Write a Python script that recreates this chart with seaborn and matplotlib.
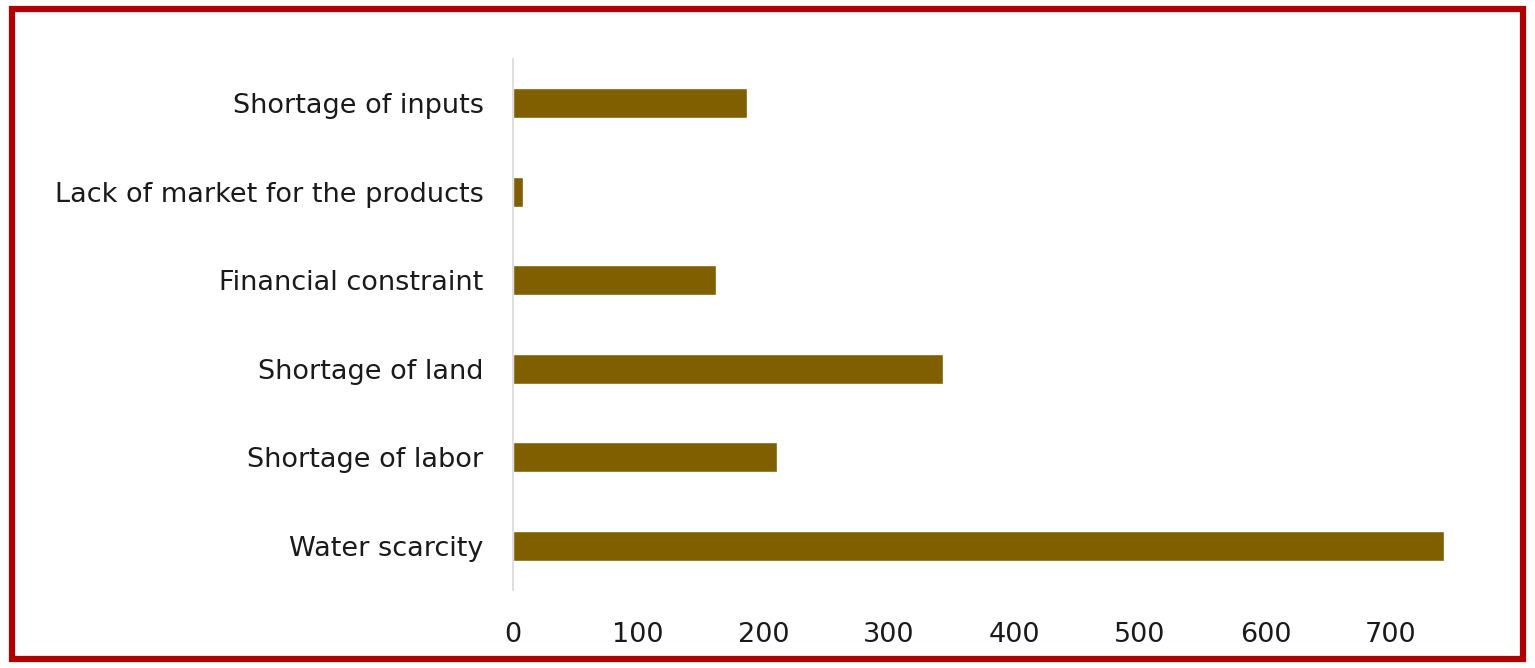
import numpy as np
import pandas as pd
import seaborn as sns
import matplotlib.pyplot as plt
from matplotlib.patches import Rectangle

# donnees
categories = ["Shortage of inputs", "Lack of market for the products", "Financial constraint",
              "Shortage of land", "Shortage of labor", "Water scarcity"]
values = [187, 8, 162, 343, 211, 742]
xticks = [0, 100, 200, 300, 400, 500, 600, 700]

data = pd.DataFrame({"constraint": categories, "count": values})

sns.set_style("white")
plt.rcParams['font.family'] = ['DejaVu Sans']

fig = plt.figure(figsize=(15.35, 6.68), dpi=100)
ax = fig.add_axes([0.334, 0.117, 0.613, 0.795])

sns.barplot(data=data, x="count", y="constraint", order=categories, orient="h",
            color="#7F5F00", saturation=1, width=0.34, ax=ax)

ax.set_xlim(0, 750)
ax.set_xticks(xticks)
ax.set_xlabel("")
ax.set_ylabel("")
ax.tick_params(axis="y", length=0, pad=21, labelsize=19.5, labelcolor="#1a1a1a")
ax.tick_params(axis="x", length=0, pad=23, labelsize=19.5, labelcolor="#1a1a1a")
for lbl in ax.get_yticklabels():
    lbl.set_verticalalignment("center_baseline")
for s in ["top", "right", "bottom"]:
    ax.spines[s].set_visible(False)
ax.spines["left"].set_color("#D9D9D9")
ax.spines["left"].set_linewidth(1.2)

# cadre rouge
fig.patches.append(Rectangle((0.0075, 0.014), 0.985, 0.972, transform=fig.transFigure,
                             fill=False, edgecolor="#B00000", linewidth=4.5))

fig.savefig("out.png", dpi=100)
